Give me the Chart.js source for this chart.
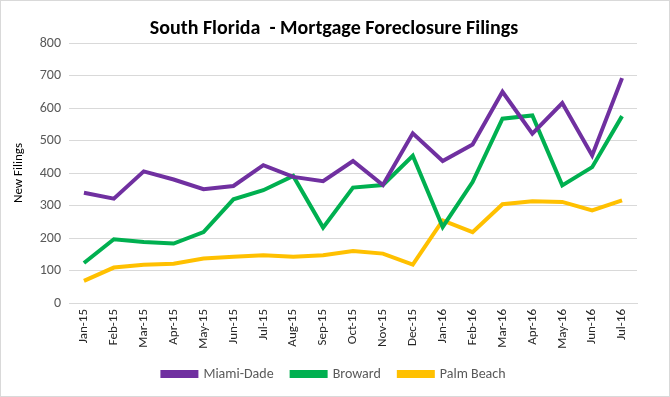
<!DOCTYPE html>
<html>
<head>
<meta charset="utf-8">
<script src="https://cdn.jsdelivr.net/npm/chart.js@4"></script>
<style>
    html, body { margin: 0; padding: 0; background: #fff; }
    #wrap { position: relative; width: 668px; height: 395px; border: 1px solid #d9d9d9; }
</style>
</head>
<body>
<div id="wrap"><canvas id="foreclosureChart"></canvas></div>
<script>
// Monthly new foreclosure filings
const months = ['Jan-15', 'Feb-15', 'Mar-15', 'Apr-15', 'May-15', 'Jun-15', 'Jul-15', 'Aug-15', 'Sep-15', 'Oct-15',
    'Nov-15', 'Dec-15', 'Jan-16', 'Feb-16', 'Mar-16', 'Apr-16', 'May-16', 'Jun-16', 'Jul-16'];
const miamiDade = [339, 321, 405, 380, 350, 360, 424, 388, 375, 437, 363, 522, 437, 488, 650, 521, 615, 454, 692];
const broward = [123, 196, 188, 183, 218, 319, 347, 391, 232, 355, 363, 453, 234, 372, 567, 577, 362, 418, 575];
const palmBeach = [68, 109, 118, 121, 137, 142, 147, 142, 147, 160, 152, 118, 254, 218, 304, 313, 311, 285, 316];

const ctx = document.getElementById('foreclosureChart').getContext('2d');
const gray = '#595959';
const font = 'Calibri, Carlito, Lato, "Open Sans", sans-serif';

function series(label, data, color) {
    return {
        label: label,
        data: data,
        borderColor: color,
        backgroundColor: color,
        borderWidth: 4,
        pointRadius: 0,
        tension: 0,
    };
}

const chart = new Chart(ctx, {
    type: 'line',
    data: {
        labels: months,
        datasets: [
            series('Miami-Dade', miamiDade, '#7030A0'),
            series('Broward', broward, '#00B050'),
            series('Palm Beach', palmBeach, '#FFC000'),
        ]
    },
    options: {
        responsive: true,
        maintainAspectRatio: false,
        animation: false,
        layout: {
            // wide left padding keeps title and legend centred like the original
            padding: { left: 30, right: 32, top: 6, bottom: 5 },
        },
        scales: {
            x: {
                offset: true,
                grid: { display: false, drawTicks: false },
                border: { color: '#d9d9d9' },
                ticks: {
                    color: '#262626',
                    maxRotation: 90,
                    minRotation: 90,
                    padding: 6,
                    font: { family: font, size: 13 },
                },
                afterFit: (scale) => { scale.height = 46; },
            },
            y: {
                min: 0,
                max: 800,
                grid: { color: '#d9d9d9', drawTicks: false },
                border: { display: false },
                ticks: {
                    stepSize: 100,
                    color: gray,
                    padding: 8,
                    font: { family: font, size: 14 },
                },
                title: {
                    display: true,
                    text: 'New Filings',
                    color: '#000',
                    padding: { top: -20, bottom: 0 },
                    font: { family: font, size: 13 },
                },
                afterFit: (scale) => { scale.width = 38; },
            },
        },
        plugins: {
            title: {
                display: true,
                text: 'South Florida  - Mortgage Foreclosure Filings',
                color: '#000',
                padding: { top: 10, bottom: 2 },
                font: { family: font, size: 20, weight: 'bold' },
            },
            legend: {
                position: 'bottom',
                labels: {
                    boxWidth: 34,
                    boxHeight: 4,
                    color: gray,
                    padding: 18,
                    font: { family: font, size: 14 },
                },
            },
            tooltip: { enabled: false },
        },
    },
});
</script>
</body>
</html>
